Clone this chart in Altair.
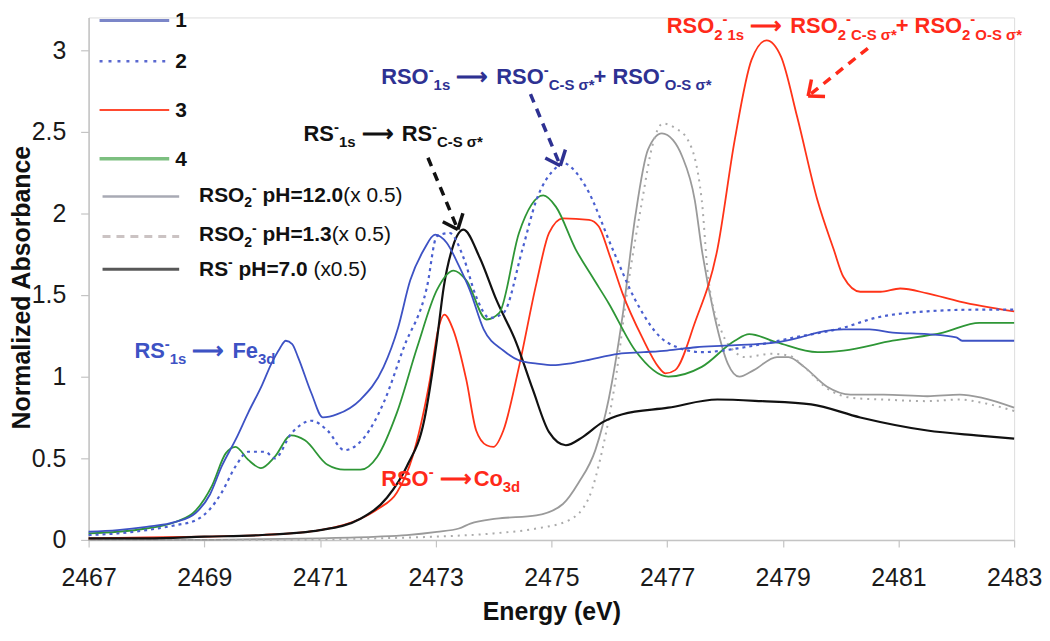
import math
import altair as alt
import pandas as pd

# ---------------- data ----------------
X_TICKS = [2467, 2469, 2471, 2473, 2475, 2477, 2479, 2481, 2483]
Y_TICKS = [0, 0.5, 1, 1.5, 2, 2.5, 3]

s1_e = [2467.0, 2467.5, 2468.0, 2468.5, 2468.85, 2469.1, 2469.3, 2469.55, 2469.76, 2470.0,
        2470.16, 2470.3, 2470.41, 2470.52, 2470.62, 2470.85, 2471.05, 2471.3, 2471.7, 2472.1,
        2472.35, 2472.56, 2472.8, 2472.99, 2473.19, 2473.4, 2473.59, 2473.83, 2474.17, 2474.44,
        2474.75, 2475.03, 2475.3, 2475.6, 2476.16, 2476.6, 2477.0, 2477.5, 2478.0, 2478.9,
        2479.3, 2479.6, 2480.05, 2480.5, 2480.9, 2481.5, 2482.0, 2482.1, 2483.0]
s1_a = [0.05, 0.06, 0.08, 0.11, 0.165, 0.28, 0.45, 0.62, 0.78, 0.95,
        1.08, 1.17, 1.22, 1.20, 1.12, 0.90, 0.75, 0.77, 0.86, 1.06,
        1.30, 1.59, 1.78, 1.87, 1.82, 1.68, 1.53, 1.29, 1.16, 1.10,
        1.08, 1.07, 1.08, 1.10, 1.14, 1.15, 1.16, 1.18, 1.19, 1.21,
        1.24, 1.27, 1.29, 1.29, 1.27, 1.26, 1.24, 1.22, 1.22]

s2_e = [2467.0, 2467.5, 2468.0, 2468.5, 2468.85, 2469.1, 2469.3, 2469.54, 2469.76, 2470.05,
        2470.22, 2470.5, 2470.85, 2471.13, 2471.42, 2471.77, 2472.1, 2472.45, 2472.85, 2473.02,
        2473.24, 2473.48, 2473.7, 2473.93, 2474.17, 2474.5, 2474.74, 2475.08, 2475.2, 2475.35,
        2475.6, 2476.06, 2476.45, 2477.0, 2477.6, 2478.34, 2479.2, 2480.05, 2480.6, 2481.5,
        2482.3, 2483.0]
s2_a = [0.03, 0.04, 0.06, 0.09, 0.12, 0.19, 0.29, 0.45, 0.54, 0.54,
        0.50, 0.65, 0.73, 0.67, 0.55, 0.63, 0.84, 1.18, 1.55, 1.86,
        1.88, 1.73, 1.49, 1.36, 1.39, 1.78, 2.08, 2.28, 2.31, 2.28,
        2.16, 1.78, 1.47, 1.21, 1.15, 1.18, 1.24, 1.30, 1.36, 1.40,
        1.41, 1.41]

s3_e = [2467.0, 2468.0, 2469.0, 2470.0, 2471.0, 2471.7, 2472.0, 2472.33, 2472.6, 2472.9,
        2473.05, 2473.15, 2473.3, 2473.53, 2473.7, 2473.88, 2474.0, 2474.17, 2474.44, 2474.74,
        2474.96, 2475.2, 2475.65, 2475.82, 2476.0, 2476.23, 2476.57, 2476.85, 2476.97, 2477.14,
        2477.48, 2477.87, 2478.17, 2478.46, 2478.72, 2478.97, 2479.25, 2479.6, 2479.88, 2480.05,
        2480.34, 2480.69, 2481.03, 2481.5, 2482.06, 2483.0]
s3_a = [0.01, 0.015, 0.02, 0.03, 0.06, 0.13, 0.19, 0.29, 0.51, 0.98,
        1.30, 1.38, 1.29, 0.98, 0.67, 0.58, 0.57, 0.67, 1.06, 1.57,
        1.88, 1.97, 1.96, 1.92, 1.75, 1.51, 1.24, 1.06, 1.02, 1.04,
        1.33, 1.78, 2.45, 2.94, 3.06, 2.96, 2.59, 2.08, 1.78, 1.61,
        1.52, 1.52, 1.54, 1.51, 1.46, 1.40]

s4_e = [2467.0, 2467.5, 2468.0, 2468.5, 2468.85, 2469.13, 2469.37, 2469.54, 2469.76, 2469.98,
        2470.22, 2470.5, 2470.74, 2471.13, 2471.42, 2471.7, 2471.99, 2472.33, 2472.68, 2473.02,
        2473.31, 2473.53, 2473.88, 2474.1, 2474.44, 2474.86, 2475.08, 2475.42, 2475.71, 2475.99,
        2476.45, 2477.02, 2477.6, 2478.17, 2478.42, 2478.9, 2479.6, 2480.05, 2480.9, 2481.77,
        2482.4, 2483.0]
s4_a = [0.04, 0.05, 0.07, 0.11, 0.18, 0.33, 0.53, 0.57, 0.49, 0.44,
        0.51, 0.64, 0.61, 0.46, 0.43, 0.43, 0.51, 0.78, 1.18, 1.53,
        1.65, 1.59, 1.35, 1.39, 1.88, 2.11, 2.04, 1.78, 1.61, 1.45,
        1.16, 1.00, 1.06, 1.22, 1.26, 1.21, 1.15, 1.16, 1.22, 1.27,
        1.33, 1.33]

rso2_12_e = [2467.0, 2469.0, 2470.0, 2471.0, 2472.0, 2472.5, 2473.02, 2473.4, 2473.6, 2474.05,
             2474.74, 2475.2, 2475.47, 2475.76, 2475.99, 2476.23, 2476.45, 2476.67, 2476.91, 2477.1,
             2477.26, 2477.48, 2477.6, 2477.82, 2478.05, 2478.25, 2478.5, 2478.9, 2479.1, 2479.37,
             2479.76, 2480.17, 2480.74, 2481.5, 2482.06, 2482.45, 2483.0]
rso2_12_a = [0.0, 0.0, 0.005, 0.01, 0.02, 0.03, 0.05, 0.07, 0.10, 0.13,
             0.15, 0.22, 0.35, 0.55, 0.86, 1.37, 1.98, 2.39, 2.49, 2.45,
             2.35, 2.08, 1.78, 1.37, 1.08, 1.0, 1.04, 1.12, 1.12, 1.06,
             0.94, 0.89, 0.89, 0.88, 0.89, 0.87, 0.81]

rso2_13_e = [2467.0, 2470.0, 2472.0, 2473.0, 2474.0, 2474.74, 2475.3, 2475.65, 2475.88, 2476.1,
             2476.33, 2476.57, 2476.75, 2476.93, 2477.15, 2477.36, 2477.6, 2477.71, 2477.95, 2478.15,
             2478.34, 2478.8, 2479.1, 2479.4, 2479.76, 2480.2, 2480.74, 2481.5, 2482.06, 2482.45,
             2483.0]
rso2_13_a = [0.0, 0.0, 0.01, 0.02, 0.04, 0.07, 0.12, 0.26, 0.55, 0.96,
             1.57, 2.08, 2.42, 2.55, 2.52, 2.45, 2.08, 1.61, 1.27, 1.16,
             1.12, 1.14, 1.13, 1.05, 0.93, 0.87, 0.86, 0.85, 0.86, 0.84,
             0.79]

rs7_e = [2467.0, 2468.0, 2469.0, 2470.0, 2471.0, 2471.7, 2472.16, 2472.5, 2472.8, 2473.02,
         2473.14, 2473.3, 2473.48, 2473.76, 2474.05, 2474.39, 2474.68, 2474.96, 2475.25, 2475.54,
         2475.88, 2476.23, 2477.02, 2477.87, 2478.63, 2479.49, 2480.34, 2481.5, 2482.34, 2483.0]
rs7_a = [0.01, 0.01, 0.02, 0.03, 0.06, 0.13, 0.26, 0.45, 0.73, 1.22,
         1.55, 1.80, 1.90, 1.73, 1.47, 1.21, 0.92, 0.66, 0.58, 0.63,
         0.72, 0.77, 0.81, 0.86, 0.85, 0.83, 0.75, 0.67, 0.64, 0.62]

# ---------------- layout constants ----------------
X_DOM = [2467, 2483]
Y_DOM = [0, 3.2]
W, H = 930, 525
LEFT, TOP, RIGHT, BOTTOM = 81, 8, 28, 88
PAGE = 8
FONT = "Liberation Sans, Arial, sans-serif"


def px_to_e(px):
    return X_DOM[0] + (px - (PAGE + LEFT)) * (X_DOM[1] - X_DOM[0]) / W


def py_to_a(py):
    return (PAGE + TOP + H - py) * (Y_DOM[1] - Y_DOM[0]) / H


BOLD_W = {' ': 278, '(': 333, ')': 333, '*': 389, '+': 584, '-': 333, '.': 278, '=': 584,
          'C': 722, 'F': 611, 'O': 778, 'R': 722, 'S': 667, 'H': 722, 'c': 556, 'd': 611,
          'e': 556, 'o': 611, 'p': 611, 's': 556, 'x': 556, 'σ': 611, '⟶': 1550}
REG_W = {' ': 278, '(': 333, ')': 333, '.': 278, 'x': 500, '⟶': 1550}


def text_width(t, size, bold):
    table = BOLD_W if bold else REG_W
    return sum(table.get(ch, 556) for ch in t) * size / 1000.0


def layout(x_px, base_px, parts, size, color, rows):
    x = x_px
    small = round(size * 0.68)
    for t, kind in parts:
        bold = kind != 'r'
        if kind == 'sub':
            fs, dy = small, size * 0.28
        elif kind == 'sup':
            fs, dy = small, -size * 0.42
        else:
            fs, dy = size, 0
        lead = len(t) - len(t.lstrip(' '))
        x += text_width(' ' * lead, fs, bold)
        core = t.strip(' ')
        if core:
            rows.append(dict(E=px_to_e(x), A=py_to_a(base_px + dy), t=core, s=fs, c=color,
                             w='bold' if bold else 'normal'))
        x += text_width(t.lstrip(' '), fs, bold)


ARROW = '⟶'
rows = []
NAVY = '#2e3192'
RED = '#ff2a1a'
BLUE = '#3d52c4'
layout(383, 83, [("RSO", 'n'), ("-", 'sup'), ("1s", 'sub'), (" " + ARROW + " ", 'n'),
                 ("RSO", 'n'), ("-", 'sup'), ("C-S σ*", 'sub'), ("+ ", 'n'),
                 ("RSO", 'n'), ("-", 'sup'), ("O-S σ*", 'sub')], 22, NAVY, rows)
layout(305, 140, [("RS", 'n'), ("-", 'sup'), ("1s", 'sub'), (" " + ARROW + " ", 'n'),
                  ("RS", 'n'), ("-", 'sup'), ("C-S σ*", 'sub')], 22, '#111111', rows)
layout(670, 32, [("RSO", 'n'), ("2", 'sub'), ("-", 'sup'), ("1s", 'sub'), (" " + ARROW + " ", 'n'),
                 ("RSO", 'n'), ("2", 'sub'), ("-", 'sup'), ("C-S σ*", 'sub'), ("+ ", 'n'),
                 ("RSO", 'n'), ("2", 'sub'), ("-", 'sup'), ("O-S σ*", 'sub')], 22, RED, rows)
layout(135, 358, [("RS", 'n'), ("-", 'sup'), ("1s", 'sub'), (" " + ARROW + " ", 'n'),
                  ("Fe", 'n'), ("3d", 'sub')], 22, BLUE, rows)
layout(383, 487, [("RSO", 'n'), ("-", 'sup'), (" " + ARROW, 'n'),
                  ("Co", 'n'), ("3d", 'sub')], 22, RED, rows)

# legend labels
for lab, yb in [("1", 26), ("2", 67), ("3", 116), ("4", 165)]:
    layout(176, yb, [(lab, 'n')], 21, '#111111', rows)
layout(200, 201, [("RSO", 'n'), ("2", 'sub'), ("-", 'sup'), (" pH=12.0", 'n'), ("(x 0.5)", 'r')],
       21, '#111111', rows)
layout(200, 241, [("RSO", 'n'), ("2", 'sub'), ("-", 'sup'), (" pH=1.3", 'n'), ("(x 0.5)", 'r')],
       21, '#111111', rows)
layout(200, 276, [("RS", 'n'), ("-", 'sup'), (" pH=7.0 ", 'n'), ("(x0.5)", 'r')],
       21, '#111111', rows)

text_df = pd.DataFrame(rows)

# ---------------- encodings ----------------
x_enc = alt.X("E:Q", scale=alt.Scale(domain=X_DOM, nice=False, zero=False),
              axis=alt.Axis(values=X_TICKS, format="d", title="Energy (eV)",
                            titleFont=FONT, titleFontSize=25, titleFontWeight="bold",
                            titleColor="#111111", titlePadding=9,
                            labelFont=FONT, labelFontSize=25, labelColor="#1a1a1a",
                            labelPadding=19, tickSize=7, tickWidth=1.2,
                            tickColor="#c4c4c4", domainColor="#c4c4c4", domainWidth=1.5,
                            grid=False, labelFlush=False))
y_enc = alt.Y("A:Q", scale=alt.Scale(domain=Y_DOM, nice=False, zero=False),
              axis=alt.Axis(values=Y_TICKS, format="~g", title="Normalized Absorbance",
                            titleFont=FONT, titleFontSize=25, titleFontWeight="bold",
                            titleColor="#111111", titleAngle=270, titleBaseline="alphabetic",
                            titleAlign="center", titleX=-59, titleY=271,
                            labelFont=FONT, labelFontSize=25, labelColor="#1a1a1a",
                            labelPadding=15, tickSize=8, tickWidth=1.2,
                            tickColor="#c4c4c4", domainColor="#c4c4c4", domainWidth=1.5,
                            grid=False))

series = [
    (rso2_12_e, rso2_12_a, "#9a9a9a", 1.8, None),
    (rso2_13_e, rso2_13_a, "#ababab", 2.0, [2, 5]),
    (s3_e, s3_a, "#ff3318", 1.8, None),
    (rs7_e, rs7_a, "#111111", 2.2, None),
    (s4_e, s4_a, "#2e9636", 1.8, None),
    (s2_e, s2_a, "#4a5fd0", 2.2, [3, 4]),
    (s1_e, s1_a, "#3d52c4", 1.8, None),
]

layers = []
for e, a, col, sw, dash in series:
    kw = dict(interpolate="monotone", color=col, strokeWidth=sw)
    if dash:
        kw["strokeDash"] = dash
    layers.append(alt.Chart(pd.DataFrame({"E": e, "A": a})).mark_line(**kw)
                  .encode(x=x_enc, y=y_enc))

# legend sample lines (pixel anchors converted into data space)
legend_lines = [
    (100, 170, 19, "#7b86c8", 3.0, None),
    (100, 170, 60, "#5a68d0", 2.5, [3, 6]),
    (100, 170, 109, "#ff4a30", 2.0, None),
    (100, 170, 158, "#7cbf80", 3.5, None),
    (103, 180, 196, "#a8aab4", 2.5, None),
    (103, 180, 236, "#cbc3c3", 3.0, [8, 6]),
    (103, 180, 269, "#585858", 3.0, None),
]
for x1, x2, yy, col, sw, dash in legend_lines:
    kw = dict(color=col, strokeWidth=sw)
    if dash:
        kw["strokeDash"] = dash
    df = pd.DataFrame({"E": [px_to_e(x1)], "E2": [px_to_e(x2)], "A": [py_to_a(yy)]})
    layers.append(alt.Chart(df).mark_rule(**kw).encode(x=x_enc, x2="E2:Q", y=y_enc))

# dashed annotation arrows
arrows = [((430, 157), (460, 229), '#111111'),
          ((533, 93), (563, 165), NAVY),
          ((872, 47), (812, 95), RED)]
shaft, head = [], []
for (sx, sy), (tx, ty), col in arrows:
    shaft.append(dict(E=px_to_e(sx), A=py_to_a(sy), E2=px_to_e(tx), A2=py_to_a(ty), c=col))
    ang = math.atan2(ty - sy, tx - sx) + math.pi
    for d in (-0.7, 0.7):
        hx = tx + 17 * math.cos(ang + d)
        hy = ty + 17 * math.sin(ang + d)
        head.append(dict(E=px_to_e(tx), A=py_to_a(ty), E2=px_to_e(hx), A2=py_to_a(hy), c=col))

layers.append(alt.Chart(pd.DataFrame(shaft)).mark_rule(strokeWidth=3.5, strokeDash=[9, 7])
              .encode(x=x_enc, y=y_enc, x2="E2:Q", y2="A2:Q",
                      color=alt.Color("c:N", scale=None)))
layers.append(alt.Chart(pd.DataFrame(head)).mark_rule(strokeWidth=3.5)
              .encode(x=x_enc, y=y_enc, x2="E2:Q", y2="A2:Q",
                      color=alt.Color("c:N", scale=None)))

for wt in ("bold", "normal"):
    sub = text_df[text_df.w == wt]
    layers.append(alt.Chart(sub).mark_text(align="left", baseline="alphabetic", font=FONT,
                                           fontWeight=wt)
                  .encode(x=x_enc, y=y_enc, text="t:N",
                          size=alt.Size("s:Q", scale=None),
                          color=alt.Color("c:N", scale=None)))

chart = alt.layer(*layers).properties(
    width=W, height=H,
    autosize=alt.AutoSizeParams(type="none"),
    padding={"left": LEFT, "top": TOP, "right": RIGHT, "bottom": BOTTOM},
).configure_view(stroke=None).configure(background="white")

chart.save("out.html", embed_options={"renderer": "svg", "actions": False})
